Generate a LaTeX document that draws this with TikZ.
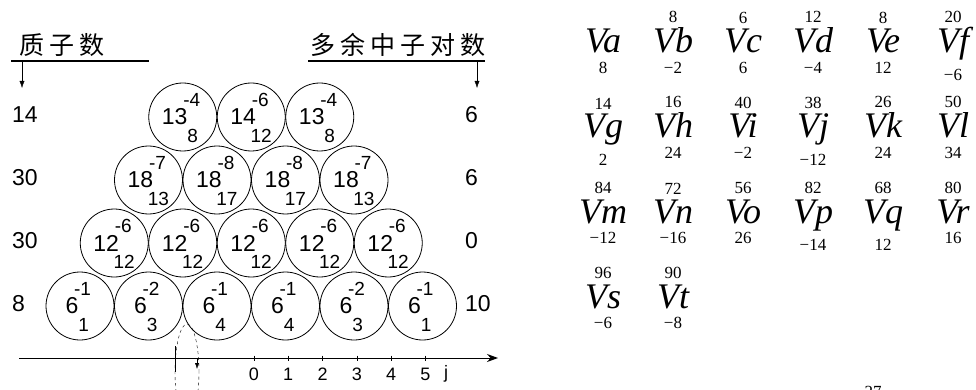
\documentclass[tikz,border=0pt]{standalone}
\usepackage{fontspec}
\setmainfont{Liberation Serif}
\newfontfamily\arial{Liberation Sans}
\newfontfamily\cjk{Noto Sans CJK SC}
\usepackage{tikz}
\usetikzlibrary{arrows.meta,calc}

\tikzset{
  ball/.style={draw, circle, minimum size=68pt, inner sep=0pt, line width=0.8pt},
  num/.style={inner sep=0pt, font=\arial\fontsize{23}{23}\selectfont},
  idx/.style={inner sep=0pt, font=\arial\fontsize{19}{19}\selectfont},
  axnum/.style={inner sep=0pt, font=\arial\fontsize{18}{18}\selectfont},
  title/.style={inner sep=0pt, anchor=base west, font=\cjk\fontsize{25}{25}\selectfont},
  vname/.style={inner sep=0pt, anchor=base, font=\fontsize{36}{36}\selectfont\itshape},
  vnum/.style={inner sep=0pt, font=\fontsize{17}{17}\selectfont},
}

\begin{document}
\begin{tikzpicture}[x=1pt, y=-1pt]
\useasboundingbox (0,0) rectangle (976,390);

% Headings with underline and down arrows
\node[title] (ptitle) at (19,55) {质\hspace{5pt}子\hspace{5pt}数};
\node[title] (ntitle) at (310,55) {多\hspace{5pt}余\hspace{5pt}中\hspace{5pt}子\hspace{5pt}对\hspace{5pt}数};
\draw[line width=1.2pt] (11,61) -- (149,61);
\draw[line width=1.2pt] (308,61) -- (485,61);
\coordinate (pa) at (22,61);
\coordinate (pb) at (22,88);
\coordinate (na) at (477,61);
\coordinate (nb) at (477,88);
\draw[-{Latex[length=7pt,width=5pt]}] (pa) -- (pb);
\draw[-{Latex[length=7pt,width=5pt]}] (na) -- (nb);

% Row labels on both sides
\foreach \y/\p/\n [count=\i] in {115/14/6, 178/30/6, 241/30/0, 304/8/10} {
  \node[num, anchor=west] (p\i) at (12,\y) {\p};
  \node[num, anchor=west] (n\i) at (465,\y) {\n};
}

% Pyramid of circles
\foreach \r/\y/\xa/\list in {
    1/117/182.75/{13/-4/8, 14/-6/12, 13/-4/8},
    2/180/148.5/{18/-7/13, 18/-8/17, 18/-8/17, 18/-7/13},
    3/243/114.25/{12/-6/12, 12/-6/12, 12/-6/12, 12/-6/12, 12/-6/12},
    4/306/80/{6/-1/1, 6/-2/3, 6/-1/4, 6/-1/4, 6/-2/3, 6/-1/1}} {
  \foreach \m/\u/\d [count=\c] in \list {
    \node[ball] (b\r-\c) at ({\xa+(\c-1)*68.5},\y) {};
    \node[num] (m\r-\c) at ([xshift=-8pt]b\r-\c.center) {\m};
    \node[idx] (u\r-\c) at ($(m\r-\c.east)+(4,-17)$) {\u};
    \node[idx] (d\r-\c) at ($(m\r-\c.east)+(5,19)$) {\d};
  }
}

% j axis
\coordinate (ax0) at (19,358);
\coordinate (ax1) at (498,358);
\draw[line width=1pt, -{Stealth[length=11pt,width=8pt]}] (ax0) -- (ax1);
\foreach \k in {0,...,5} {
  \coordinate (t\k) at ({254+34.25*\k},358);
  \draw (t\k) ++(0,-2.5) -- ++(0,5);
  \node[axnum] (l\k) at ({254+34.25*\k},374) {\k};
}
\node[axnum] (lj) at (446,374) {j};
\coordinate (ka) at (175,346);
\coordinate (kb) at (175,372);
\draw[line width=1pt] (ka) -- (kb);
\coordinate (sa) at (197,358);
\coordinate (sb) at (197,369);
\draw[-{Latex[length=6pt,width=4pt]}] (sa) -- (sb);
\draw[dashed] (187,372) ellipse [x radius=12pt, y radius=48pt];

% Table of V terms
\foreach \y/\list in {
    53/{a/{}/8, b/8/−2, c/6/6, d/12/−4, e/8/12, f/20/−6},
    138/{g/14/2, h/16/24, i/40/−2, j/38/−12, k/26/24, l/50/34},
    223/{m/84/−12, n/72/−16, o/56/26, p/82/−14, q/68/12, r/80/16},
    308/{s/96/−6, t/90/−8}} {
  \foreach \v/\t/\b [count=\c] in \list {
    \node[vname] (V\v) at ({603+70*(\c-1)},\y) {V\v};
    \node[vnum, anchor=south] (T\v) at ([yshift=5pt]V\v.north) {\t};
    \node[vnum, anchor=north] (B\v) at ([yshift=-8pt]V\v.south) {\b};
  }
}
\node[vnum, anchor=north] (cut) at (873,386) {27};
\end{tikzpicture}
\end{document}
